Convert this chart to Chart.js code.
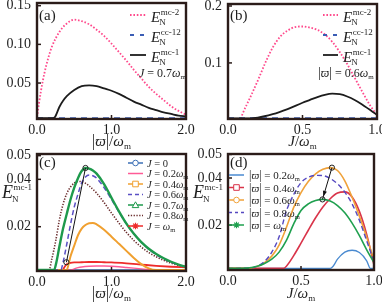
<!DOCTYPE html>
<html><head><meta charset="utf-8">
<script src="https://cdn.jsdelivr.net/npm/chart.js@4.4.0/dist/chart.umd.min.js"></script>
<style>
html,body{margin:0;padding:0;background:#fff;}
body{width:382px;height:305px;position:relative;overflow:hidden;}
canvas{position:absolute;}
</style></head><body>
<canvas id="ca" width="200" height="150" style="left:0;top:0"></canvas>
<canvas id="cb" width="191" height="150" style="left:191px;top:0"></canvas>
<canvas id="cc" width="200" height="161" style="left:0;top:144px"></canvas>
<canvas id="cd" width="191" height="161" style="left:191px;top:144px"></canvas>
<script>
// ---------- panel (a): E_N vs |varpi|/omega_m, J = 0.7 omega_m ----------
const aTicksX = [0, 1, 2], aLabelsX = ['0.0', '1.0', '2.0'];
const aTicksY = [0.05, 0.10, 0.15], aLabelsY = ['0.05', '0.10', '0.15'];
const aPinkX = [0, 0.05, 0.1, 0.15, 0.2, 0.3, 0.4, 0.5, 0.6, 0.7, 0.8, 0.9, 1.0, 1.1, 1.2, 1.3, 1.4, 1.5, 1.6, 1.7, 1.8, 1.9, 2.0];
const aPinkY = [0.006, 0.038, 0.063, 0.082, 0.097, 0.116, 0.127, 0.132, 0.130, 0.126, 0.119, 0.111, 0.101, 0.090, 0.079, 0.067, 0.056, 0.045, 0.036, 0.028, 0.020, 0.014, 0.009];
const aBlueX = [0, 0.5, 1.0, 1.5, 2.0];
const aBlueY = [0.0045, 0.0045, 0.0045, 0.0045, 0.0045];
const aBlackX = [0, 0.2, 0.24, 0.3, 0.35, 0.4, 0.5, 0.6, 0.7, 0.8, 0.9, 1.0, 1.1, 1.2, 1.3, 1.4, 1.5, 1.6, 1.7, 1.8, 1.9, 2.0];
const aBlackY = [0.0045, 0.0045, 0.006, 0.019, 0.027, 0.033, 0.041, 0.046, 0.047, 0.046, 0.043, 0.040, 0.036, 0.031, 0.026, 0.022, 0.018, 0.015, 0.012, 0.010, 0.008, 0.007];

// ---------- panel (b): E_N vs J/omega_m, |varpi| = 0.6 omega_m ----------
const bTicksX = [0, 0.5, 1], bLabelsX = ['0.0', '0.5', '1.0'];
const bTicksY = [0.1, 0.2], bLabelsY = ['0.1', '0.2'];
const bPinkX = [0.085, 0.1, 0.15, 0.2, 0.25, 0.3, 0.35, 0.4, 0.45, 0.5, 0.55, 0.6, 0.65, 0.7, 0.75, 0.8, 0.85, 0.9, 0.95, 1.0];
const bPinkY = [0.002, 0.012, 0.040, 0.069, 0.100, 0.127, 0.146, 0.157, 0.163, 0.164, 0.162, 0.158, 0.150, 0.137, 0.119, 0.098, 0.074, 0.050, 0.027, 0.008];
const bBlueX = [0, 0.25, 0.5, 0.75, 1.0];
const bBlueY = [0.003, 0.003, 0.003, 0.003, 0.003];
const bBlackX = [0, 0.1, 0.2, 0.3, 0.4, 0.5, 0.55, 0.6, 0.65, 0.7, 0.75, 0.8, 0.85, 0.9, 0.95, 1.0];
const bBlackY = [0.0025, 0.0025, 0.004, 0.010, 0.019, 0.030, 0.035, 0.040, 0.044, 0.046, 0.045, 0.041, 0.035, 0.027, 0.018, 0.009];

// ---------- panel (c): E_N^mc-1 vs |varpi|/omega_m for several J ----------
const cTicksX = [0, 1, 2], cLabelsX = ['0.0', '1.0', '2.0'];
const cTicksY = [0.02, 0.04, 0.05], cLabelsY = ['0.02', '0.04', '0.05'];
const cLegend = ['0', '0.2', '0.4', '0.6', '0.7', '0.8', ''];
const cJ0X = [0, 0.5, 1.0, 1.5, 2.0];
const cJ0Y = [0.0017, 0.0017, 0.0017, 0.0017, 0.0017];
const cJ02X = [0, 0.45, 0.5, 0.55, 0.6, 0.7, 0.8, 0.9, 1.0, 1.1, 1.2, 1.3, 1.4, 1.5, 1.6, 2.0];
const cJ02Y = [0.0017, 0.0017, 0.0022, 0.0027, 0.0030, 0.0033, 0.0034, 0.0034, 0.0033, 0.0031, 0.0028, 0.0025, 0.0022, 0.0019, 0.0017, 0.0017];
const cJ04X = [0, 0.4, 0.42, 0.45, 0.5, 0.55, 0.6, 0.65, 0.7, 0.75, 0.8, 0.9, 1.0, 1.1, 1.2, 1.3, 1.4, 1.5, 1.6, 2.0];
const cJ04Y = [0.0017, 0.0017, 0.0037, 0.0075, 0.012, 0.0164, 0.0192, 0.0207, 0.0215, 0.0216, 0.021, 0.0187, 0.0158, 0.0128, 0.0098, 0.0068, 0.0042, 0.0024, 0.0017, 0.0017];
const cJ06X = [0, 0.32, 0.35, 0.4, 0.45, 0.5, 0.55, 0.6, 0.65, 0.7, 0.75, 0.8, 0.9, 1.0, 1.1, 1.2, 1.3, 1.4, 1.5, 1.6, 1.7, 1.8, 1.9, 2.0];
const cJ06Y = [0.0017, 0.0017, 0.005, 0.0127, 0.021, 0.0283, 0.0338, 0.0385, 0.041, 0.0418, 0.0415, 0.0405, 0.0365, 0.0315, 0.0262, 0.0213, 0.0170, 0.0134, 0.0105, 0.0082, 0.0064, 0.0050, 0.0039, 0.0031];
const cJ07X = [0, 0.23, 0.26, 0.3, 0.35, 0.4, 0.45, 0.5, 0.55, 0.6, 0.65, 0.7, 0.75, 0.8, 0.9, 1.0, 1.1, 1.2, 1.3, 1.4, 1.5, 1.6, 1.7, 1.8, 1.9, 2.0];
const cJ07Y = [0.0017, 0.0017, 0.005, 0.0115, 0.0192, 0.0255, 0.0315, 0.0365, 0.0405, 0.0435, 0.0448, 0.0445, 0.0437, 0.0424, 0.038, 0.0322, 0.0265, 0.0213, 0.0170, 0.0135, 0.0107, 0.0085, 0.0067, 0.0052, 0.0040, 0.0030];
const cJ08X = [0, 0.16, 0.2, 0.25, 0.3, 0.35, 0.4, 0.45, 0.5, 0.55, 0.6, 0.7, 0.8, 0.9, 1.0, 1.1, 1.2, 1.3, 1.4, 1.5, 1.6, 1.7, 1.8, 1.9, 2.0];
const cJ08Y = [0.0017, 0.0017, 0.0065, 0.0138, 0.0228, 0.0295, 0.034, 0.0368, 0.0384, 0.0391, 0.0390, 0.0372, 0.0342, 0.0302, 0.0258, 0.0215, 0.0176, 0.0142, 0.0114, 0.0091, 0.0073, 0.0058, 0.0046, 0.0037, 0.0030];
const cJ1X = [0, 0.34, 0.37, 0.4, 0.45, 0.5, 0.6, 0.7, 0.8, 0.9, 1.0, 1.2, 1.4, 1.6, 1.8, 2.0];
const cJ1Y = [0.0017, 0.0017, 0.0030, 0.0042, 0.0047, 0.0049, 0.0050, 0.0051, 0.0051, 0.0050, 0.0049, 0.0045, 0.0040, 0.0035, 0.0031, 0.0028];
const cArrowX = [0.651, 0.395];
const cArrowY = [0.0448, 0.0050];

// ---------- panel (d): E_N^mc-1 vs J/omega_m for several |varpi| ----------
const dTicksX = [0, 0.5, 1], dLabelsX = ['0.0', '0.5', '1.0'];
const dTicksY = [0.02, 0.04, 0.05], dLabelsY = ['0.02', '0.04', '0.05'];
const dLegend = ['0.2', '0.4', '0.6', '0.8', ''];
const dW02X = [0, 0.7, 0.72, 0.75, 0.8, 0.85, 0.9, 0.95, 0.975, 1.0];
const dW02Y = [0.0016, 0.0016, 0.0025, 0.0055, 0.0085, 0.0093, 0.0083, 0.0048, 0.0016, 0.0016];
const dW04X = [0, 0.38, 0.4, 0.45, 0.5, 0.55, 0.6, 0.65, 0.7, 0.75, 0.8, 0.85, 0.9, 0.95, 1.0];
const dW04Y = [0.0016, 0.0016, 0.0025, 0.0070, 0.0123, 0.0178, 0.0231, 0.0277, 0.0312, 0.0336, 0.0341, 0.0319, 0.0258, 0.0160, 0.0030];
const dW06X = [0, 0.15, 0.2, 0.25, 0.3, 0.35, 0.4, 0.45, 0.5, 0.55, 0.6, 0.65, 0.7, 0.75, 0.8, 0.85, 0.9, 0.95, 1.0];
const dW06Y = [0.0016, 0.0017, 0.0024, 0.0040, 0.0068, 0.0115, 0.0190, 0.0275, 0.0338, 0.0385, 0.0418, 0.0437, 0.0444, 0.0432, 0.0388, 0.0318, 0.0238, 0.0148, 0.0050];
const dW08X = [0, 0.15, 0.2, 0.25, 0.3, 0.35, 0.4, 0.45, 0.5, 0.55, 0.6, 0.65, 0.7, 0.75, 0.8, 0.85, 0.9, 0.95, 1.0];
const dW08Y = [0.0016, 0.0017, 0.0025, 0.0045, 0.0085, 0.0150, 0.0260, 0.0330, 0.0380, 0.0403, 0.0411, 0.0410, 0.0398, 0.0375, 0.0340, 0.0290, 0.0220, 0.0133, 0.0045];
const dW1X = [0, 0.13, 0.2, 0.25, 0.3, 0.35, 0.4, 0.45, 0.5, 0.55, 0.6, 0.65, 0.7, 0.75, 0.8, 0.85, 0.9, 0.95, 1.0];
const dW1Y = [0.0016, 0.0017, 0.0025, 0.0037, 0.0055, 0.0085, 0.0135, 0.0205, 0.0262, 0.0290, 0.0304, 0.0309, 0.0302, 0.0283, 0.0252, 0.0208, 0.0155, 0.0095, 0.0040];
const dArrowX = [0.712, 0.647];
const dArrowY = [0.0444, 0.0309];

// ---------- styling ----------
const SERIF = "'Liberation Serif','DejaVu Serif',serif";
const FRAME = '#2b1c19';
const INK = '#1e1e1e';
const PINK = '#ff4a8c', BLUE = '#3b5db5', BLACK = '#1c1c1c';
const C_COL = ['#3b6fb6', '#ff5a96', '#f0a030', '#5a4fc4', '#1e9a4c', '#6a2c2c', '#ee2b2b'];
const D_COL = ['#4a8ad0', '#d9344a', '#f0a23a', '#5548c0', '#1fa04f'];

function xy(xs, ys) { return xs.map((x, i) => ({ x: x, y: ys[i] })); }
function ds(xs, ys, color, width, dash) {
  return { data: xy(xs, ys), showLine: true, borderColor: color, backgroundColor: color,
    borderWidth: width, borderDash: dash || [], borderCapStyle: 'butt', pointRadius: 0,
    cubicInterpolationMode: 'monotone', fill: false };
}
function ann(xs, ys) {
  return { data: xy(xs, ys), showLine: true, borderColor: '#111', borderWidth: 1, tension: 0,
    pointRadius: 2.6, pointStyle: 'circle', pointBackgroundColor: 'rgba(255,255,255,0)',
    pointBorderColor: '#222', pointBorderWidth: 1 };
}

function runs(ctx, x, y, parts) {
  for (const p of parts) { ctx.font = p[1]; ctx.fillText(p[0], x, y + (p[2] || 0)); x += ctx.measureText(p[0]).width; }
  return x;
}
function runsWidth(ctx, parts) {
  let w = 0; for (const p of parts) { ctx.font = p[1]; w += ctx.measureText(p[0]).width; } return w;
}
function EN(ctx, x, y, sup, big, small, supDy, subDy) {
  ctx.font = 'italic ' + big + 'px ' + SERIF; ctx.fillText('E', x, y);
  const w = ctx.measureText('E').width;
  ctx.font = small + 'px ' + SERIF;
  ctx.fillText(sup, x + w + 0.5, y + supDy);
  ctx.fillText('N', x + w - 1, y + subDy);
}
function F(size, it) { return (it ? 'italic ' : '') + size + 'px ' + SERIF; }
function marker(ctx, kind, x, y, color) {
  ctx.save(); ctx.strokeStyle = color; ctx.lineWidth = 1; ctx.setLineDash([]); ctx.fillStyle = '#fff';
  ctx.beginPath();
  if (kind === 'circle') { ctx.arc(x, y, 2.8, 0, Math.PI * 2); ctx.fill(); ctx.stroke(); }
  else if (kind === 'rect') { ctx.rect(x - 2.8, y - 2.8, 5.6, 5.6); ctx.fill(); ctx.stroke(); }
  else if (kind === 'tri') { ctx.moveTo(x, y - 3.2); ctx.lineTo(x + 3.3, y + 2.6); ctx.lineTo(x - 3.3, y + 2.6); ctx.closePath(); ctx.fill(); ctx.stroke(); }
  else if (kind === 'star') {
    ctx.lineWidth = 1.2;
    for (let k = 0; k < 4; k++) { const a = k * Math.PI / 4; ctx.moveTo(x - 3.3 * Math.cos(a), y - 3.3 * Math.sin(a)); ctx.lineTo(x + 3.3 * Math.cos(a), y + 3.3 * Math.sin(a)); }
    ctx.stroke();
  }
  ctx.restore();
}
function sample(ctx, x1, x2, y, color, width, dash, mk) {
  ctx.save(); ctx.strokeStyle = color; ctx.lineWidth = width; ctx.setLineDash(dash || []);
  ctx.beginPath(); ctx.moveTo(x1, y); ctx.lineTo(x2, y); ctx.stroke(); ctx.restore();
  if (mk) marker(ctx, mk, (x1 + x2) / 2, y, color);
}
function xTitle(ctx, chart, parts, y) {
  const a = chart.chartArea; const w = runsWidth(ctx, parts);
  ctx.fillStyle = INK; runs(ctx, (a.left + a.right) / 2 - w / 2, y, parts);
}
const T_VARPI = [['|', F(16)], ['\u03D6', F(15, true)], ['|', F(16)], ['/', F(15)], ['\u03C9', F(15, true)], ['m', F(9), 3]];
const T_J = [['J', F(15, true)], ['/', F(15)], ['\u03C9', F(15, true)], ['m', F(9), 3]];

function arrowHead(ctx, ch) {
  const pts = ch.getDatasetMeta(0).data;
  if (pts.length !== 2) return;
  const p0 = pts[0], p1 = pts[1];
  const ang = Math.atan2(p1.y - p0.y, p1.x - p0.x);
  const tx = p1.x - 3 * Math.cos(ang), ty = p1.y - 3 * Math.sin(ang);
  ctx.fillStyle = '#111'; ctx.beginPath();
  ctx.moveTo(tx, ty);
  ctx.lineTo(tx - 6 * Math.cos(ang - 0.35), ty - 6 * Math.sin(ang - 0.35));
  ctx.lineTo(tx - 6 * Math.cos(ang + 0.35), ty - 6 * Math.sin(ang + 0.35));
  ctx.closePath(); ctx.fill();
}

const DRAW = {
  ca(ctx, ch) {
    ctx.fillStyle = INK; ctx.font = F(15); ctx.fillText('(a)', 39, 20);
    sample(ctx, 130, 146, 15, PINK, 1.8, [1.6, 1.8]);
    sample(ctx, 130, 146, 35, BLUE, 1.8, [4, 6]);
    sample(ctx, 130, 146, 55, BLACK, 1.8);
    ctx.fillStyle = INK;
    EN(ctx, 151, 22, 'mc-2', 15, 9, -7, 3);
    EN(ctx, 151, 42, 'cc-12', 15, 9, -7, 3);
    EN(ctx, 151, 62, 'mc-1', 15, 9, -7, 3);
    runs(ctx, 139, 77, [['J', F(12, true)], [' = 0.7', F(12)], ['\u03C9', F(12, true)], ['m', F(7), 2]]);
    xTitle(ctx, ch, T_VARPI, 146);
  },
  cb(ctx, ch) {
    ctx.fillStyle = INK; ctx.font = F(15); ctx.fillText('(b)', 39, 20);
    sample(ctx, 132, 147, 15, PINK, 1.8, [1.6, 1.8]);
    sample(ctx, 132, 147, 35, BLUE, 1.8, [4, 6]);
    sample(ctx, 132, 147, 55, BLACK, 1.8);
    ctx.fillStyle = INK;
    EN(ctx, 152, 22, 'mc-2', 15, 9, -7, 3);
    EN(ctx, 152, 42, 'cc-12', 15, 9, -7, 3);
    EN(ctx, 152, 62, 'mc-1', 15, 9, -7, 3);
    runs(ctx, 127, 77, [['|', F(14)], ['\u03D6', F(12, true)], ['|', F(14)], [' = 0.6', F(12)], ['\u03C9', F(12, true)], ['m', F(7), 2]]);
    xTitle(ctx, ch, T_J, 146);
  },
  cc(ctx, ch) {
    ctx.translate(0, 6);
    ctx.fillStyle = INK; ctx.font = F(15); ctx.fillText('(c)', 39, 17);
    const kinds = ['circle', null, 'rect', null, 'tri', null, 'star'];
    const dashes = [null, null, null, [4, 3], null, [1.3, 1.5], null];
    for (let i = 0; i < cLegend.length; i++) {
      const y = 13 + i * 10.5;
      sample(ctx, 128, 143, y, C_COL[i], 1.5, dashes[i], kinds[i]);
      ctx.fillStyle = INK;
      const parts = [['J', F(10.5, true)], [' = ' + cLegend[i], F(10.5)]];
      if (cLegend[i] !== '0') { parts.push(['\u03C9', F(10.5, true)]); parts.push(['m', F(6.5), 2]); }
      runs(ctx, 147, y + 3.5, parts);
    }
    ctx.fillStyle = INK;
    EN(ctx, 2, 48, 'mc-1', 18, 9, -8, 4);
    xTitle(ctx, ch, T_VARPI, 148);
  },
  cd(ctx, ch) {
    arrowHead(ctx, ch);
    ctx.translate(0, 6);
    ctx.fillStyle = INK; ctx.font = F(15); ctx.fillText('(d)', 39, 17);
    const kinds = [null, 'rect', 'circle', null, 'star'];
    const dashes = [null, null, null, [3, 3], null];
    for (let i = 0; i < dLegend.length; i++) {
      const y = 25 + i * 12.5;
      sample(ctx, 38, 53, y, D_COL[i], 1.5, dashes[i], kinds[i]);
      ctx.fillStyle = INK;
      runs(ctx, 58, y + 4, [['|', F(12)], ['\u03D6', F(11, true)], ['|', F(12)], [' = ' + dLegend[i], F(11)], ['\u03C9', F(11, true)], ['m', F(6.5), 2]]);
    }
    ctx.fillStyle = INK;
    EN(ctx, 2, 48, 'mc-1', 18, 9, -8, 4);
    xTitle(ctx, ch, T_J, 148);
  }
};

const deco = {
  id: 'deco',
  afterDatasetsDraw(chart) {
    const ctx = chart.ctx, a = chart.chartArea, xs = chart.scales.x, ys = chart.scales.y;
    ctx.save();
    ctx.strokeStyle = FRAME; ctx.lineWidth = 1.5; ctx.setLineDash([]);
    xs.ticks.forEach(t => { const px = xs.getPixelForValue(t.value); ctx.beginPath(); ctx.moveTo(px, a.bottom); ctx.lineTo(px, a.bottom - 4); ctx.stroke(); });
    ys.ticks.forEach(t => { const py = ys.getPixelForValue(t.value); ctx.beginPath(); ctx.moveTo(a.left, py); ctx.lineTo(a.left + 4, py); ctx.stroke(); });
    ctx.lineWidth = 2.4; ctx.strokeRect(a.left, a.top, a.right - a.left, a.bottom - a.top);
    ctx.textBaseline = 'alphabetic'; ctx.textAlign = 'left';
    DRAW[chart.canvas.id](ctx, chart);
    ctx.restore();
  }
};

function mk(id, c) {
  return new Chart(document.getElementById(id).getContext('2d'), {
    type: 'scatter',
    data: { datasets: c.ds },
    options: {
      responsive: false, animation: false, devicePixelRatio: 1, events: [],
      layout: { padding: { left: 0, right: c.pr, top: c.pt, bottom: 0 } },
      plugins: { legend: { display: false }, tooltip: { enabled: false } },
      scales: {
        x: { type: 'linear', min: c.x[0], max: c.x[1], grid: { display: false, drawTicks: false }, border: { display: false },
          afterBuildTicks: s => { s.ticks = c.xt.map(v => ({ value: v })); },
          afterFit: s => { s.height = c.xh; s.paddingLeft = 0; s.paddingRight = 0; },
          ticks: { autoSkip: false, maxRotation: 0, padding: 3, color: INK, font: { family: SERIF, size: 14 }, callback: (v, i) => c.xl[i] } },
        y: { type: 'linear', min: c.y[0], max: c.y[1], grid: { display: false, drawTicks: false }, border: { display: false },
          afterBuildTicks: s => { s.ticks = c.yt.map(v => ({ value: v })); },
          afterFit: s => { s.width = 37; s.paddingTop = 0; s.paddingBottom = 0; },
          ticks: { autoSkip: false, padding: 6, color: INK, font: { family: SERIF, size: 14 }, callback: (v, i) => c.yl[i] } }
      }
    },
    plugins: [deco]
  });
}

mk('ca', { pr: 14, pt: 3, xh: 31, x: [0, 2], y: [0.0035, 0.1535], xt: aTicksX, xl: aLabelsX, yt: aTicksY, yl: aLabelsY,
  ds: [ds(aBlackX, aBlackY, BLACK, 1.8), ds(aBlueX, aBlueY, BLUE, 1.8, [6, 5]), ds(aPinkX, aPinkY, PINK, 1.8, [1.6, 1.8])] });
mk('cb', { pr: 5, pt: 4, xh: 31, x: [0, 1], y: [0.0015, 0.2035], xt: bTicksX, xl: bLabelsX, yt: bTicksY, yl: bLabelsY,
  ds: [ds(bBlackX, bBlackY, BLACK, 1.8), ds(bBlueX, bBlueY, BLUE, 1.8, [6, 5]), ds(bPinkX, bPinkY, PINK, 1.8, [1.6, 1.8])] });
mk('cc', { pr: 14, pt: 10, xh: 34, x: [0, 2], y: [0.0013, 0.0507], xt: cTicksX, xl: cLabelsX, yt: cTicksY, yl: cLabelsY,
  ds: [ann(cArrowX, cArrowY), ds(cJ07X, cJ07Y, C_COL[4], 2.4), ds(cJ06X, cJ06Y, C_COL[3], 1.5, [5, 3]),
       ds(cJ08X, cJ08Y, C_COL[5], 1.6, [1.3, 1.5]), ds(cJ04X, cJ04Y, C_COL[2], 2), ds(cJ1X, cJ1Y, C_COL[6], 1.8),
       ds(cJ02X, cJ02Y, C_COL[1], 1.4), ds(cJ0X, cJ0Y, C_COL[0], 1.6)] });
mk('cd', { pr: 8, pt: 10, xh: 35, x: [0, 1], y: [0.0009, 0.0502], xt: dTicksX, xl: dLabelsX, yt: dTicksY, yl: dLabelsY,
  ds: [ann(dArrowX, dArrowY), ds(dW1X, dW1Y, D_COL[4], 1.6), ds(dW08X, dW08Y, D_COL[3], 1.4, [5, 3]),
       ds(dW06X, dW06Y, D_COL[2], 1.6), ds(dW04X, dW04Y, D_COL[1], 1.6), ds(dW02X, dW02Y, D_COL[0], 1.3)] });
</script>
</body></html>
